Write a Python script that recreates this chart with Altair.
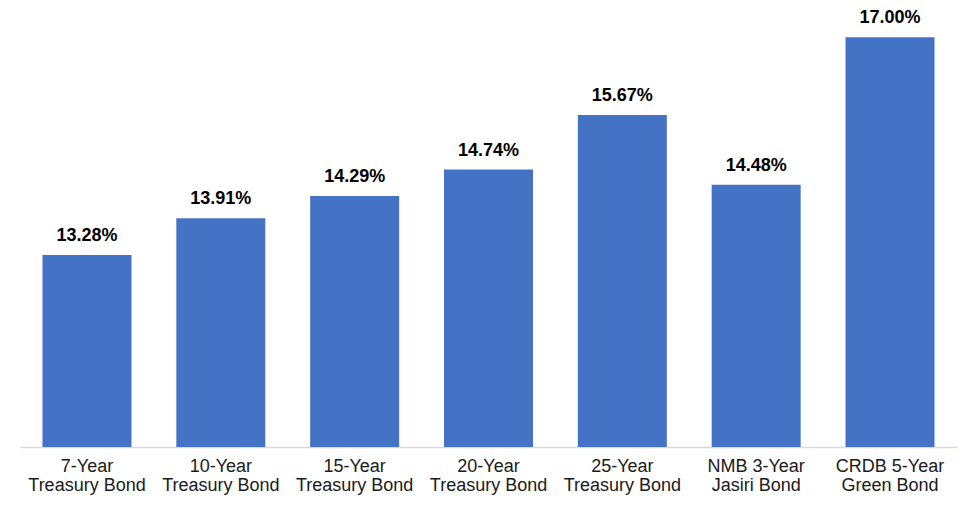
import altair as alt
import pandas as pd

categories = [
    "7-Year\nTreasury Bond",
    "10-Year\nTreasury Bond",
    "15-Year\nTreasury Bond",
    "20-Year\nTreasury Bond",
    "25-Year\nTreasury Bond",
    "NMB 3-Year\nJasiri Bond",
    "CRDB 5-Year\nGreen Bond",
]
values = [13.28, 13.91, 14.29, 14.74, 15.67, 14.48, 17.00]
labels = ["13.28%", "13.91%", "14.29%", "14.74%", "15.67%", "14.48%", "17.00%"]

df = pd.DataFrame({"bond": categories, "rate": values, "label": labels})

x = alt.X(
    "bond:N",
    sort=categories,
    title=None,
    scale=alt.Scale(paddingInner=0.335, paddingOuter=0.168),
    axis=alt.Axis(
        labelExpr="split(datum.label, '\\n')",
        labelAngle=0,
        labelFont="Liberation Sans",
        labelFontSize=18,
        labelColor="#1a1a1a",
        labelLineHeight=19.5,
        labelPadding=10,
        labelBaseline="top",
        ticks=False,
        domainColor="#d9d9d9",
        domainWidth=1.5,
    ),
)
y = alt.Y(
    "rate:Q",
    title=None,
    scale=alt.Scale(domain=[10, 17.5], zero=False, nice=False, clamp=True),
    axis=None,
)

bars = alt.Chart(df).mark_bar(color="#4472C4", clip=True).encode(
    x=x, y=y, y2=alt.datum(10)
)
text = alt.Chart(df).mark_text(
    font="Liberation Sans",
    fontSize=18,
    fontWeight="bold",
    color="#000000",
    baseline="alphabetic",
    dy=-14,
).encode(x=x, y=y, text="label:N")

chart = (
    alt.layer(bars, text)
    .properties(
        width=937,
        height=439,
        autosize="none",
        padding={"left": 12, "top": 0, "right": 2, "bottom": 51},
    )
    .configure_view(stroke=None)
)

chart.save("out.html", embed_options={"renderer": "svg", "actions": False})
